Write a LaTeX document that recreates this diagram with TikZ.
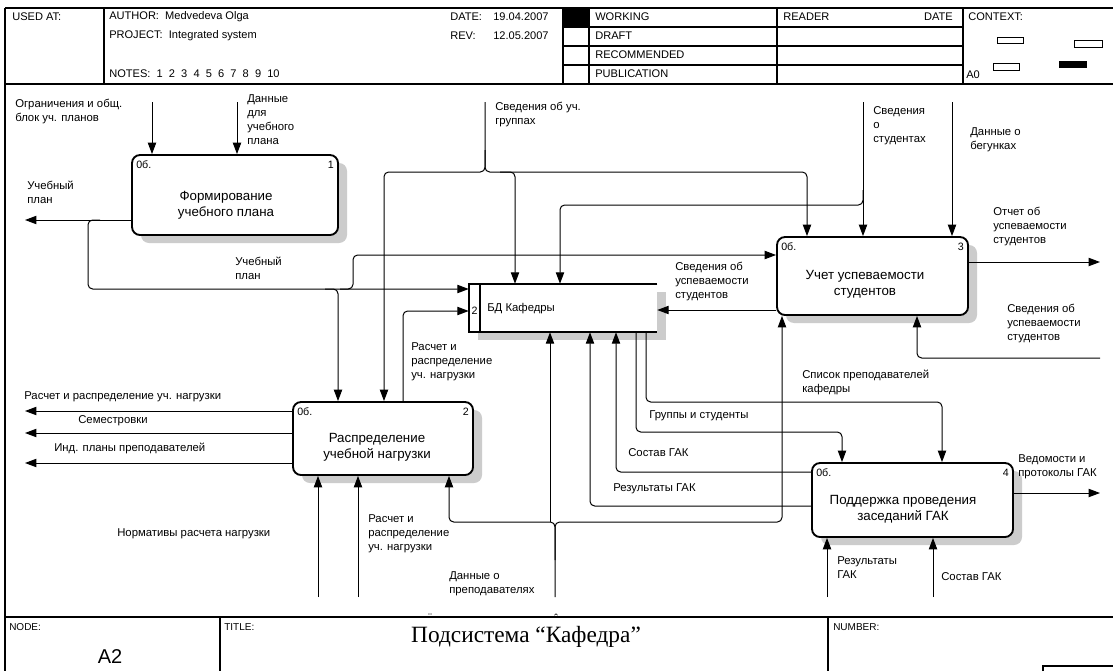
\documentclass[tikz,border=0pt]{standalone}
\usepackage{fontspec}
\setmainfont{Liberation Sans}
\newfontfamily\titlefont{Liberation Serif}
\usetikzlibrary{arrows.meta,shadows}
\begin{document}
\begin{tikzpicture}[x=0.75pt,y=-0.75pt,
  frm/.style={line width=0.8pt},
  shad/.style={drop shadow={shadow xshift=6.75pt,shadow yshift=-6pt,fill=gray!40,opacity=1}},
  idbox/.style={draw,line width=1.4pt,rounded corners=6pt,fill=white,inner sep=0pt,shad},
  conn/.style={line width=0.75pt,rounded corners=3.5pt},
  arr/.style={conn,-{Triangle[length=8.5pt,width=6.2pt]}},
  lbl/.style={font=\fontsize{8.5}{10.5}\selectfont,align=left,anchor=north west,inner sep=0pt},
  boxtxt/.style={font=\fontsize{10}{12}\selectfont,align=center,inner sep=0pt},
  corner/.style={font=\fontsize{8}{9}\selectfont,inner sep=0pt},
  hdr/.style={font=\fontsize{8.3}{9}\selectfont,anchor=west,inner sep=0pt},
  accent/.style={font=\titlefont\fontsize{9}{9}\selectfont,inner sep=0pt,anchor=north}
]
\useasboundingbox (0,0) rectangle (1113,671);
\fill[white] (0,0) rectangle (1113,671);

% ---------- header frame ----------
\draw[frm] (5,8) -- (1113,8);
\draw[frm] (5,84) -- (1113,84);
\draw[frm] (5,8) -- (5,671);
\draw[frm] (104,8) -- (104,84);
\draw[frm] (563,8) -- (563,84);
\draw[frm] (589,8) -- (589,84);
\draw[frm] (777,8) -- (777,84);
\draw[frm] (963,8) -- (963,84);
\draw[frm] (563,27) -- (963,27);
\draw[frm] (563,46) -- (963,46);
\draw[frm] (563,65) -- (963,65);
\fill (563,8) rectangle (589,27);
\draw[line width=0.6pt] (997,37) rectangle (1023,43);
\draw[line width=0.6pt] (1074,40) rectangle (1102,47);
\draw[line width=0.6pt] (993,63) rectangle (1019,70);
\fill (1059,61) rectangle (1087,68);

\node[hdr] (usedat) at (12,17) {USED AT:};
\node[hdr] (author) at (109,17) {AUTHOR:\ \ Medvedeva Olga};
\node[hdr] (project) at (109,36) {PROJECT:\ \ Integrated system};
\node[hdr] (notes) at (109,74) {NOTES:\ \ 1\ \ 2\ \ 3\ \ 4\ \ 5\ \ 6\ \ 7\ \ 8\ \ 9\ \ 10};
\node[hdr] (datel) at (450,17) {DATE:};
\node[hdr] (datev) at (493,17) {19.04.2007};
\node[hdr] (revl) at (450,36) {REV:};
\node[hdr] (revv) at (493,36) {12.05.2007};
\node[hdr] (working) at (595,17) {WORKING};
\node[hdr] (draft) at (595,36) {DRAFT};
\node[hdr] (recom) at (595,55) {RECOMMENDED};
\node[hdr] (publ) at (595,74) {PUBLICATION};
\node[hdr] (reader) at (783,17) {READER};
\node[hdr,anchor=east] (rdate) at (953,17) {DATE};
\node[hdr] (context) at (968,17) {CONTEXT:};
\node[hdr] (a0) at (966,75) {A0};

% ---------- bottom frame ----------
\draw[frm] (5,617) -- (1113,617);
\draw[frm] (220,617) -- (220,671);
\draw[frm] (828,617) -- (828,671);
\draw[frm] (1043,671) -- (1043,666) -- (1113,666);
\node[hdr,font=\fontsize{7.5}{9}\selectfont] (nodel) at (9,627) {NODE:};
\node[hdr,font=\fontsize{7.5}{9}\selectfont] (titlel) at (224,627) {TITLE:};
\node[hdr,font=\fontsize{7.5}{9}\selectfont] (numberl) at (833,627) {NUMBER:};
\node[font=\fontsize{15}{17}\selectfont,inner sep=0pt] (a2) at (110,657) {A2};
\node[font=\titlefont\fontsize{17.5}{19}\selectfont,inner sep=0pt] (title) at (526,637) {Подсистема “Кафедра”};
\node[accent] (acc1) at (430,614) {¨};
\node[accent] (acc2) at (556,614) {ˆ};

% ---------- activity boxes ----------
\node[idbox,minimum width=154.5pt,minimum height=60pt] (b1) at (235,195) {};
\node[idbox,minimum width=135pt,minimum height=54.75pt] (b2) at (383,438.5) {};
\node[idbox,minimum width=143.25pt,minimum height=58.5pt] (b3) at (872.5,276) {};
\node[idbox,minimum width=150.75pt,minimum height=55.5pt] (b4) at (912.5,500) {};

\node[boxtxt] (t1) at (226,205) {Формирование\\учебного плана};
\node[boxtxt] (t2) at (377,447) {Распределение\\учебной нагрузки};
\node[boxtxt] (t3) at (865,284) {Учет успеваемости\\студентов};
\node[boxtxt] (t4) at (903,509) {Поддержка проведения\\заседаний ГАК};

\node[corner,anchor=west] (c1a) at (136,165) {0б.};
\node[corner,anchor=east] (c1b) at (334,165) {1};
\node[corner,anchor=west] (c2a) at (297,412) {0б.};
\node[corner,anchor=east] (c2b) at (469,412) {2};
\node[corner,anchor=west] (c3a) at (781,247) {0б.};
\node[corner,anchor=east] (c3b) at (964,247) {3};
\node[corner,anchor=west] (c4a) at (816,473) {0б.};
\node[corner,anchor=east] (c4b) at (1009,473) {4};

% ---------- data store ----------
\node[minimum width=141pt,minimum height=36pt,inner sep=0pt,fill=white,shad] (bd) at (563,308) {};
\draw[line width=1.4pt] (bd.north east) -- (bd.north west) -- (bd.south west) -- (bd.south east);
\draw[line width=1.2pt] ([xshift=8.25pt]bd.north west) -- ([xshift=8.25pt]bd.south west);
\node[corner] (bdn) at (474.5,311) {2};
\node[corner,anchor=west,font=\fontsize{8.5}{9}\selectfont] (bdt) at (487,309) {БД Кафедры};

% ---------- connectors ----------
% box 1
\draw[arr] (152,102) -- (152,0 |- b1.north);
\draw[arr] (237,102) -- (237,0 |- b1.north);
\draw[arr] (b1.west |- 0,220) -- (25,220);
\draw[arr] (100,220) -- (88,220) -- (88,289) -- (bd.west |- 0,289);
\draw[arr] (325,289) -- (338,289) -- (338,0 |- b2.north);
\draw[arr] (340,289) -- (353,289) -- (353,255) -- (b3.west |- 0,255);
% Сведения об уч. группах
\draw[arr] (485,102) -- (485,172) -- (384,172) -- (384,0 |- b2.north);
\draw[arr] (485,150) -- (485,172) -- (807,172) -- (807,0 |- b3.north);
\draw[arr] (500,172) -- (515,172) -- (515,0 |- bd.north);
% Сведения о студентах
\draw[arr] (863,102) -- (863,0 |- b3.north);
\draw[arr] (863,190) -- (863,205) -- (560,205) -- (560,0 |- bd.north);
% Данные о бегунках
\draw[arr] (952,102) -- (952,0 |- b3.north);
% box 3 outputs / inputs
\draw[arr] (b3.east |- 0,262) -- (1100,262);
\draw[arr] (1100,358) -- (917,358) -- (917,0 |- b3.south);
\draw[arr] (b3.west |- 0,310) -- (bd.east |- 0,310);
% box 2
\draw[arr] (403,0 |- b2.north) -- (403,311) -- (bd.west |- 0,311);
\draw[arr] (b2.west |- 0,411) -- (25,411);
\draw[arr] (b2.west |- 0,433) -- (25,433);
\draw[arr] (b2.west |- 0,463) -- (25,463);
\draw[arr] (318,597) -- (318,0 |- b2.south);
\draw[arr] (358,597) -- (358,0 |- b2.south);
% Данные о преподавателях
\draw[arr] (555,597) -- (555,522) -- (449,522) -- (449,0 |- b2.south);
\draw[arr] (555,560) -- (555,522) -- (782,522) -- (782,0 |- b3.south);
\draw[arr] (550,522) -- (550,0 |- bd.south);
% box 4 <-> BD
\draw[arr] (b4.west |- 0,472) -- (616,472) -- (616,0 |- bd.south);
\draw[arr] (b4.west |- 0,506) -- (590,506) -- (590,0 |- bd.south);
\draw[arr] (636,0 |- bd.south) -- (636,432) -- (842,432) -- (842,0 |- b4.north);
\draw[arr] (646,0 |- bd.south) -- (646,402) -- (942,402) -- (942,0 |- b4.north);
\draw[arr] (b4.east |- 0,493) -- (1100,493);
\draw[arr] (827,597) -- (827,0 |- b4.south);
\draw[arr] (933,597) -- (933,0 |- b4.south);

% ---------- labels ----------
\node[lbl] (l1) at (15,99) {Ограничения и общ.\\блок уч. планов};
\node[lbl] (l2) at (247,94) {Данные\\для\\учебного\\плана};
\node[lbl] (l3) at (27,181) {Учебный\\план};
\node[lbl] (l4) at (235,257) {Учебный\\план};
\node[lbl] (l5) at (495,102) {Сведения об уч.\\группах};
\node[lbl] (l6) at (873,106) {Сведения\\о\\студентах};
\node[lbl] (l7) at (970,127) {Данные о\\бегунках};
\node[lbl] (l8) at (993,207) {Отчет об\\успеваемости\\студентов};
\node[lbl] (l9) at (1007,304) {Сведения об\\успеваемости\\студентов};
\node[lbl] (l10) at (675,262) {Сведения об\\успеваемости\\студентов};
\node[lbl] (l11) at (411,342) {Расчет и\\распределение\\уч. нагрузки};
\node[lbl] (l12) at (24,391) {Расчет и распределение уч. нагрузки};
\node[lbl] (l13) at (78,415) {Семестровки};
\node[lbl] (l14) at (54,443) {Инд. планы преподавателей};
\node[lbl] (l15) at (117,528) {Нормативы расчета нагрузки};
\node[lbl] (l16) at (368,514) {Расчет и\\распределение\\уч. нагрузки};
\node[lbl] (l17) at (449,571) {Данные о\\преподавателях};
\node[lbl] (l18) at (802,370) {Список преподавателей\\кафедры};
\node[lbl] (l19) at (649,410) {Группы и студенты};
\node[lbl] (l20) at (628,448) {Состав ГАК};
\node[lbl] (l21) at (613,483) {Результаты ГАК};
\node[lbl] (l22) at (1018,454) {Ведомости и\\протоколы ГАК};
\node[lbl] (l23) at (837,556) {Результаты\\ГАК};
\node[lbl] (l24) at (941,572) {Состав ГАК};
\end{tikzpicture}
\end{document}
